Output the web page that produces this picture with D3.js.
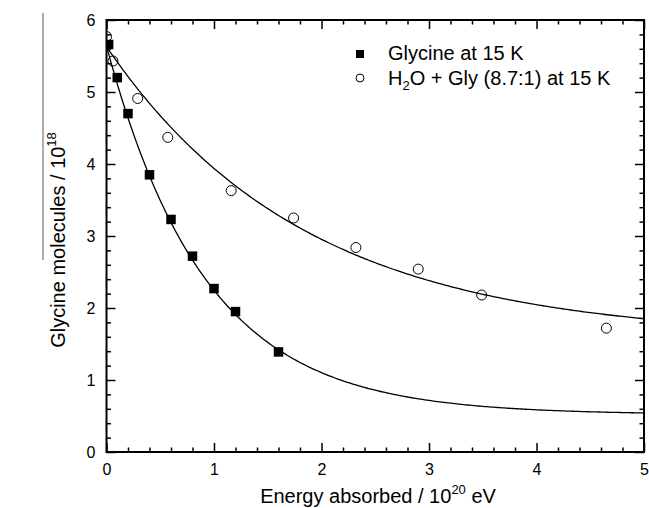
<!DOCTYPE html>
<html>
<head>
<meta charset="utf-8">
<script src="https://cdn.jsdelivr.net/npm/d3@7"></script>
<style>
  html, body { margin: 0; padding: 0; background: #fff; }
  svg { display: block; font-family: "Liberation Sans", Arial, sans-serif; }
</style>
</head>
<body>
<svg id="chart" width="649" height="508"></svg>
<script>
// Glycine destruction vs. absorbed energy (values in 10^20 eV and 10^18 molecules)
const glyEnergy = [0.02, 0.1, 0.2, 0.4, 0.6, 0.8, 1.0, 1.2, 1.6];
const glyMolecules = [5.66, 5.20, 4.70, 3.85, 3.23, 2.72, 2.27, 1.95, 1.39];

const mixEnergy = [0, 0.06, 0.29, 0.57, 1.16, 1.74, 2.32, 2.90, 3.49, 4.65];
const mixMolecules = [5.77, 5.43, 4.91, 4.37, 3.63, 3.25, 2.84, 2.54, 2.18, 1.72];

// Single-exponential decay fits: y = y0 + A * exp(-x / t)
const glyFit = { y0: 0.52, A: 5.12, t: 0.92 };
const mixFit = { y0: 1.58, A: 4.05, t: 1.85 };

const xTicks = [0, 1, 2, 3, 4, 5];
const yTicks = [0, 1, 2, 3, 4, 5, 6];
const seriesNames = ["Glycine at 15 K", "H\u2082O + Gly (8.7:1) at 15 K"];

const svg = d3.select("#chart");
const pLeft = 106.5, pRight = 644, pTop = 20, pBottom = 452;

const x = d3.scaleLinear().domain([0, 5]).range([pLeft, pRight]);
const y = d3.scaleLinear().domain([0, 6]).range([pBottom, pTop]);

const minorX = d3.range(0, 5.0001, 0.2).map(v => +v.toFixed(1)).filter(v => !xTicks.includes(v));
const minorY = d3.range(0, 6.0001, 0.2).map(v => +v.toFixed(1)).filter(v => !yTicks.includes(v));

function styleAxis(g) {
  g.select(".domain").remove();
  g.selectAll(".tick line").attr("stroke", "#000").attr("stroke-width", 1.5);
  g.selectAll(".tick text").attr("fill", "#000").attr("font-size", 16)
    .attr("font-family", "'Liberation Sans', Arial, sans-serif");
}

// bottom axis
svg.append("g").attr("transform", `translate(0,${pBottom})`)
  .call(d3.axisBottom(x).tickValues(xTicks).tickSize(-9).tickPadding(12).tickFormat(d3.format("d")))
  .call(styleAxis);
svg.append("g").attr("transform", `translate(0,${pBottom})`)
  .call(d3.axisBottom(x).tickValues(minorX).tickSize(-4.5).tickFormat(""))
  .call(styleAxis);
// top axis
svg.append("g").attr("transform", `translate(0,${pTop})`)
  .call(d3.axisTop(x).tickValues(xTicks).tickSize(-9).tickFormat(""))
  .call(styleAxis);
svg.append("g").attr("transform", `translate(0,${pTop})`)
  .call(d3.axisTop(x).tickValues(minorX).tickSize(-4.5).tickFormat(""))
  .call(styleAxis);
// left axis
svg.append("g").attr("transform", `translate(${pLeft},0)`)
  .call(d3.axisLeft(y).tickValues(yTicks).tickSize(-9).tickPadding(11).tickFormat(d3.format("d")))
  .call(styleAxis);
svg.append("g").attr("transform", `translate(${pLeft},0)`)
  .call(d3.axisLeft(y).tickValues(minorY).tickSize(-4.5).tickFormat(""))
  .call(styleAxis);
// right axis
svg.append("g").attr("transform", `translate(${pRight},0)`)
  .call(d3.axisRight(y).tickValues(yTicks).tickSize(-9).tickFormat(""))
  .call(styleAxis);
svg.append("g").attr("transform", `translate(${pRight},0)`)
  .call(d3.axisRight(y).tickValues(minorY).tickSize(-4.5).tickFormat(""))
  .call(styleAxis);

// clip region for the data
svg.append("clipPath").attr("id", "plotClip")
  .append("rect").attr("x", pLeft).attr("y", pTop).attr("width", pRight - pLeft).attr("height", pBottom - pTop);

const plot = svg.append("g").attr("clip-path", "url(#plotClip)");

// fitted curves
const xs = d3.range(0, 5.0001, 0.02);
const line = d3.line().x(d => x(d[0])).y(d => y(d[1])).curve(d3.curveLinear);
[glyFit, mixFit].forEach(f => {
  plot.append("path")
    .attr("d", line(xs.map(v => [v, f.y0 + f.A * Math.exp(-v / f.t)])))
    .attr("fill", "none").attr("stroke", "#000").attr("stroke-width", 1.3);
});

// glycine: filled squares
const sq = 9.5;
plot.selectAll("rect.gly").data(glyEnergy.map((e, i) => [e, glyMolecules[i]]))
  .join("rect").attr("class", "gly")
  .attr("x", d => x(d[0]) - sq / 2).attr("y", d => y(d[1]) - sq / 2)
  .attr("width", sq).attr("height", sq).attr("fill", "#000");

// water mixture: open circles
plot.selectAll("circle.mix").data(mixEnergy.map((e, i) => [e, mixMolecules[i]]))
  .join("circle").attr("class", "mix")
  .attr("cx", d => x(d[0])).attr("cy", d => y(d[1])).attr("r", 5)
  .attr("fill", "none").attr("stroke", "#000").attr("stroke-width", 1);

// frame
svg.append("rect").attr("x", pLeft).attr("y", pTop).attr("width", pRight - pLeft).attr("height", pBottom - pTop)
  .attr("fill", "none").attr("stroke", "#000").attr("stroke-width", 2);

// legend
const legend = svg.append("g").attr("font-size", 20).attr("fill", "#000");
legend.append("rect").attr("x", 356).attr("y", 50).attr("width", 8).attr("height", 8).attr("fill", "#000");
legend.append("text").attr("x", 388).attr("y", 60).text(seriesNames[0]);
legend.append("circle").attr("cx", 360).attr("cy", 78).attr("r", 4)
  .attr("fill", "none").attr("stroke", "#000").attr("stroke-width", 1);
const t2 = legend.append("text").attr("x", 388).attr("y", 85);
t2.append("tspan").text("H");
t2.append("tspan").attr("font-size", 13).attr("dy", 5).text("2");
t2.append("tspan").attr("dy", -5).text("O + Gly (8.7:1) at 15 K");

// x-axis title
const xt = svg.append("text").attr("x", 378).attr("y", 503).attr("text-anchor", "middle")
  .attr("font-size", 20).attr("fill", "#000");
xt.append("tspan").text("Energy absorbed / 10");
xt.append("tspan").attr("font-size", 13).attr("dy", -9).text("20");
xt.append("tspan").attr("dy", 9).text(" eV");

// y-axis title
const yt = svg.append("text").attr("transform", "translate(65,240) rotate(-90)")
  .attr("text-anchor", "middle").attr("font-size", 20).attr("fill", "#000");
yt.append("tspan").text("Glycine molecules / 10");
yt.append("tspan").attr("font-size", 13).attr("dy", -9).text("18");

// thin vertical rule to the left of the y title
svg.append("line").attr("x1", 43).attr("x2", 43).attr("y1", 13).attr("y2", 260)
  .attr("stroke", "#777").attr("stroke-width", 1.2);
</script>
</body>
</html>
